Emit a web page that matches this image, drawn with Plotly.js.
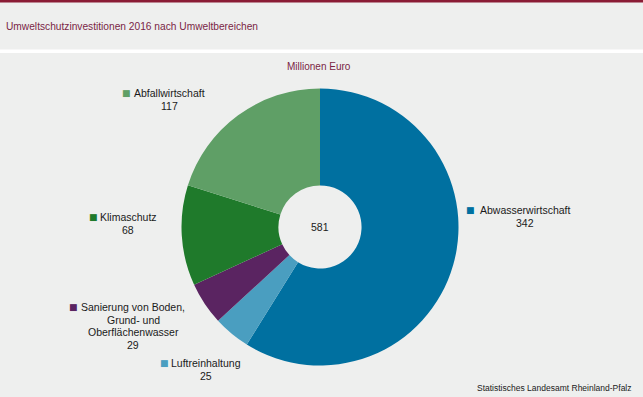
<!DOCTYPE html>
<html><head><meta charset="utf-8">
<script src="https://cdn.plot.ly/plotly-3.0.1.min.js"></script>
<style>html,body{margin:0;padding:0;background:#eeefee;}#chart{width:643px;height:397px;}</style>
</head><body><div id="chart"></div>
<script>
const categories = ["Abwasserwirtschaft", "Luftreinhaltung", "Sanierung von Boden,<br>Grund- und<br>Oberflächenwasser", "Klimaschutz", "Abfallwirtschaft"];
const values = [342, 25, 29, 68, 117];
const colors = ["#0070a0", "#4a9ec0", "#5a2461", "#1f7a2b", "#5f9f66"];
const total = values.reduce((a, b) => a + b, 0);

const W = 643, H = 397;
const cx = 320, cy = 227, R = 138.5;
const lineH = 12.6;

// label anchor positions (pixels) for each category: [squareX, textCenterX, firstLineY]
const labelPos = [
  [471, 525, 210],
  [164, 206, 363],
  [73, 133, 307],
  [93, 128, 217],
  [126, 170, 93]
];

const px = x => x / W, py = y => 1 - y / H;
const annotations = [];
const font = {family: "Liberation Sans, Arial, sans-serif", size: 10.5, color: "#1a1a1a"};
categories.forEach((c, i) => {
  const [sx, tx, ty] = labelPos[i];
  annotations.push({xref: "paper", yref: "paper", x: px(sx), y: py(ty), text: "■", showarrow: false,
    xanchor: "center", yanchor: "middle", font: {family: "DejaVu Sans", size: 9, color: colors[i]}});
  const lines = (c + "<br>" + values[i]).split("<br>");
  lines.forEach((ln, k) => {
    annotations.push({xref: "paper", yref: "paper", x: px(tx), y: py(ty + k * lineH), text: ln, showarrow: false,
      xanchor: "center", yanchor: "middle", font: font});
  });
});
annotations.push({xref: "paper", yref: "paper", x: px(cx), y: py(cy), text: String(total), showarrow: false,
  xanchor: "center", yanchor: "middle", font: font});
annotations.push({xref: "paper", yref: "paper", x: px(cx - 1), y: py(67), text: "Millionen Euro", showarrow: false,
  xanchor: "center", yanchor: "middle", font: {family: font.family, size: 10, color: "#7a1f45"}});
annotations.push({xref: "paper", yref: "paper", x: px(634), y: py(388), text: "Statistisches Landesamt Rheinland-Pfalz", showarrow: false,
  xanchor: "right", yanchor: "middle", font: {family: font.family, size: 8.5, color: "#1a1a1a"}});
annotations.push({xref: "paper", yref: "paper", x: px(4), y: py(26), text: "Umweltschutzinvestitionen 2016 nach Umweltbereichen", showarrow: false,
  xanchor: "left", yanchor: "middle", font: {family: font.family, size: 10.2, color: "#7a1f45"}});

const data = [{
  type: "pie",
  values: values,
  labels: categories,
  marker: {colors: colors, line: {width: 0}},
  hole: 0.30,
  sort: false,
  direction: "clockwise",
  rotation: 0,
  textinfo: "none",
  hoverinfo: "none",
  showlegend: false,
  domain: {x: [px(cx - R), px(cx + R)], y: [py(cy + R), py(cy - R)]}
}];

const layout = {
  width: W, height: H,
  margin: {l: 0, r: 0, t: 0, b: 0},
  paper_bgcolor: "#eeefee",
  plot_bgcolor: "#eeefee",
  showlegend: false,
  annotations: annotations,
  shapes: [
    {type: "rect", xref: "paper", yref: "paper", x0: 0, x1: 1, y0: py(2.5), y1: 1, fillcolor: "#8a1c35", line: {width: 0}},
    {type: "rect", xref: "paper", yref: "paper", x0: 0, x1: 1, y0: py(53), y1: py(49.5), fillcolor: "#ffffff", line: {width: 0}}
  ]
};

Plotly.newPlot("chart", data, layout, {staticPlot: true, displayModeBar: false});
</script></body></html>
